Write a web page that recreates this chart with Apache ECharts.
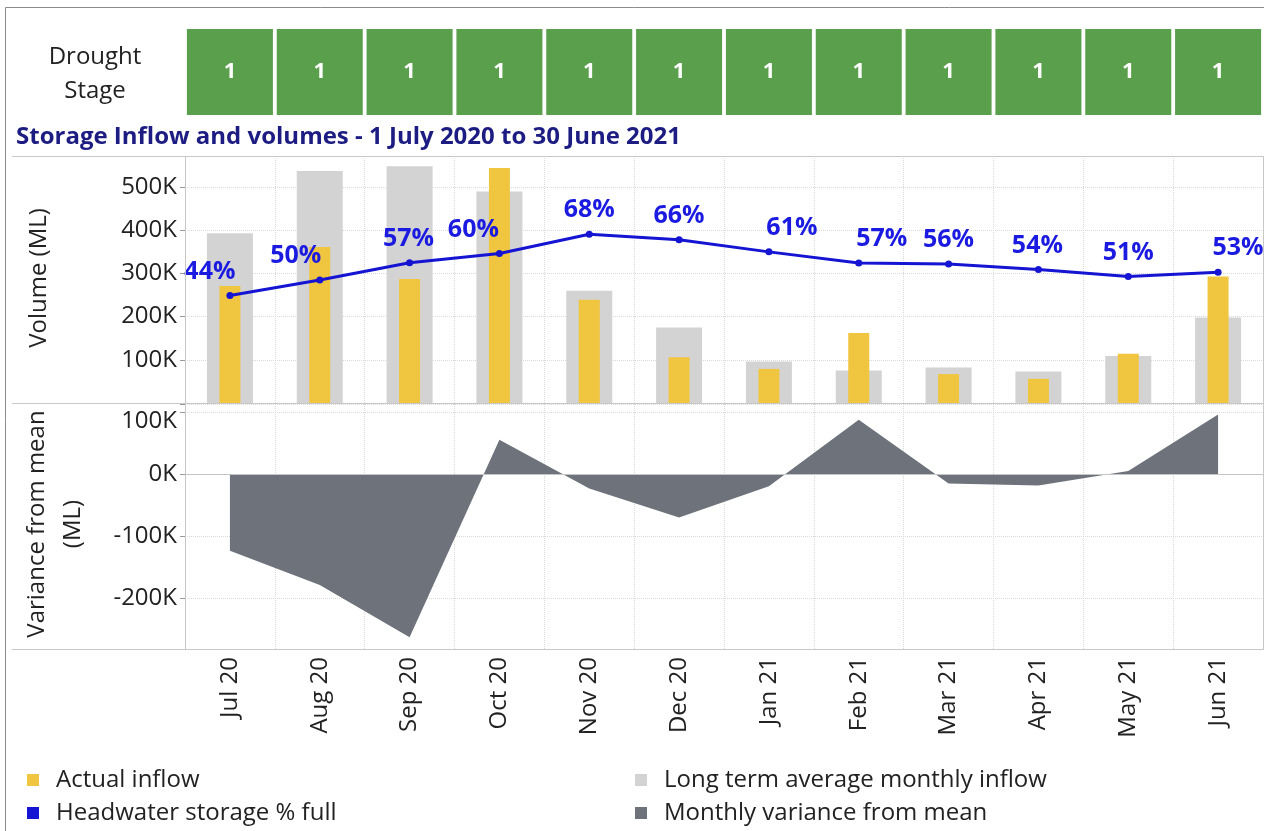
<!DOCTYPE html>
<html>
<head>
<meta charset="utf-8">
<script src="https://cdn.jsdelivr.net/npm/echarts@6/dist/echarts.min.js"></script>
<style>
html,body{margin:0;padding:0;background:#fff;}
#chart{width:1264px;height:831px;}
</style>
</head>
<body>
<div id="chart"></div>
<script>
// ---- data ----
var months = ['Jul 20','Aug 20','Sep 20','Oct 20','Nov 20','Dec 20','Jan 21','Feb 21','Mar 21','Apr 21','May 21','Jun 21'];
var droughtStage = [1,1,1,1,1,1,1,1,1,1,1,1];
var actualInflow = [271000, 361000, 287000, 544000, 239000, 106000, 79000, 162000, 67000, 56000, 114000, 293000];
var longTermAvgInflow = [393000, 537000, 548000, 490000, 260000, 175000, 96000, 75000, 82000, 73000, 109000, 198000];
var storageVolume = [249000, 285000, 325000, 346000, 391000, 378000, 350000, 324000, 322000, 309000, 293000, 303000];
var storagePctFull = [44, 50, 57, 60, 68, 66, 61, 57, 56, 54, 51, 53];
var varianceFromMean = [-123500, -178700, -263000, 55900, -23000, -69700, -19300, 88000, -15000, -18200, 5300, 96600];

// ---- styling ----
var FONT = 'Open Sans';
var TXT = '#222';
var FS = 24;
var GRID_LINE = '#d9d9d9';
var BORDER = '#c8c8c8';
var labelShiftX = [-20, -24, -1, -26, 0, 0, 23, 23, 0, -1, 0, 20];

var chart = echarts.init(document.getElementById('chart'), null, {renderer: 'canvas'});

function kFmtTop(v) { return (v !== 0 && v % 100000 === 0) ? (v / 1000) + 'K' : ''; }
function kFmtBottom(v) {
  if (v % 100000 !== 0) return '';
  var s = Math.round(v / 1000) + 'K';
  return v === 100000 ? '{low|' + s + '}' : s;
}

var grids = [
  {left: 185, top: 29, width: 1078, height: 86},
  {left: 185, top: 156, width: 1078, height: 247},
  {left: 185, top: 404, width: 1078, height: 245}
];

function catAxis(gridIndex, opts) {
  return Object.assign({
    type: 'category',
    gridIndex: gridIndex,
    data: months,
    boundaryGap: true,
    position: 'bottom',
    axisLine: {show: false},
    axisTick: {show: false},
    axisLabel: {show: false},
    splitLine: {show: false}
  }, opts || {});
}

var xAxes = [
  catAxis(0),
  catAxis(1, {splitLine: {show: true, lineStyle: {color: GRID_LINE, type: 'dotted', width: 1}}}),
  catAxis(2, {
    axisLabel: {show: true, rotate: 90, margin: 8, fontSize: FS, fontFamily: FONT, color: TXT},
    splitLine: {show: true, lineStyle: {color: GRID_LINE, type: 'dotted', width: 1}}
  }),
  catAxis(1)
];

var yAxes = [
  {type: 'value', gridIndex: 0, min: 0, max: 1, show: false},
  {
    type: 'value', gridIndex: 1, min: 0, max: 572000,
    axisLine: {show: false},
    axisTick: {show: true, length: 5, lineStyle: {color: '#999'}},
    axisLabel: {formatter: kFmtTop, fontSize: FS, fontFamily: FONT, color: TXT, margin: 8},
    splitLine: {show: true, lineStyle: {color: GRID_LINE, type: 'dotted'}}
  },
  {
    type: 'value', gridIndex: 2, min: -281800, max: 113400,
    axisLine: {show: false},
    axisTick: {show: true, length: 5, lineStyle: {color: '#999'}},
    axisLabel: {
      formatter: kFmtBottom, fontSize: FS, fontFamily: FONT, color: TXT, margin: 8,
      rich: {low: {fontSize: FS, fontFamily: FONT, color: TXT, padding: [18, 0, 0, 0]}}
    },
    splitLine: {show: true, lineStyle: {color: GRID_LINE, type: 'dotted'}}
  }
];

var legendText = {fontSize: FS, fontFamily: FONT, color: TXT, padding: [0, 0, 0, 12], lineHeight: 24};

var option = {
  animation: false,
  backgroundColor: '#ffffff',
  textStyle: {fontFamily: FONT},
  grid: grids,
  xAxis: xAxes,
  yAxis: yAxes,
  legend: [
    {
      left: 22, top: 763, orient: 'vertical', itemGap: 9,
      itemWidth: 12, itemHeight: 12, icon: 'rect',
      textStyle: legendText,
      data: ['Actual inflow', 'Headwater storage % full']
    },
    {
      left: 630, top: 763, orient: 'vertical', itemGap: 9,
      itemWidth: 12, itemHeight: 12, icon: 'rect',
      textStyle: legendText,
      data: ['Long term average monthly inflow', 'Monthly variance from mean']
    }
  ],
  series: [
    {
      name: 'Drought stage',
      type: 'bar', xAxisIndex: 0, yAxisIndex: 0,
      data: droughtStage.map(function () { return 1; }),
      barWidth: 86,
      itemStyle: {color: '#5a9f4c'},
      label: {
        show: true, position: 'inside',
        formatter: function (p) { return String(droughtStage[p.dataIndex]); },
        color: '#fff', fontSize: 22, fontWeight: 'bold', fontFamily: FONT
      },
      silent: true
    },
    {
      name: 'Long term average monthly inflow',
      type: 'bar', xAxisIndex: 1, yAxisIndex: 1,
      data: longTermAvgInflow,
      barWidth: 46,
      itemStyle: {color: '#d3d3d3'},
      z: 2
    },
    {
      name: 'Actual inflow',
      type: 'bar', xAxisIndex: 3, yAxisIndex: 1,
      data: actualInflow,
      barWidth: 21,
      itemStyle: {color: '#f0c53f'},
      z: 3
    },
    {
      name: 'Headwater storage % full',
      type: 'line', xAxisIndex: 1, yAxisIndex: 1,
      data: storageVolume.map(function (v, i) {
        return {value: v, label: {offset: [labelShiftX[i], 0]}};
      }),
      symbol: 'circle', symbolSize: 7,
      lineStyle: {color: '#1414d2', width: 3},
      itemStyle: {color: '#1414d2'},
      label: {
        show: true, position: 'top', distance: 8,
        formatter: function (p) { return storagePctFull[p.dataIndex] + '%'; },
        color: '#1a1ae0', fontSize: 25, fontWeight: 'bold', fontFamily: FONT
      },
      z: 5
    },
    {
      name: 'zero line',
      type: 'line', xAxisIndex: 2, yAxisIndex: 2,
      data: [],
      markLine: {
        silent: true, symbol: 'none', label: {show: false},
        lineStyle: {color: '#c4c4c4', type: 'solid', width: 1},
        data: [{yAxis: 0}]
      },
      z: 1
    },
    {
      name: 'Monthly variance from mean',
      type: 'line', xAxisIndex: 2, yAxisIndex: 2,
      data: varianceFromMean,
      symbol: 'none',
      lineStyle: {width: 0, color: '#6d727b'},
      itemStyle: {color: '#6d727b'},
      areaStyle: {color: '#6d727b', opacity: 1, origin: 0},
      z: 3
    }
  ],
  graphic: [
    // outer frame (top & left visible)
    {type: 'line', shape: {x1: 5.5, y1: 7.5, x2: 1264, y2: 7.5}, style: {stroke: '#8c8c8c', lineWidth: 1}, silent: true},
    {type: 'line', shape: {x1: 5.5, y1: 7.5, x2: 5.5, y2: 831}, style: {stroke: '#8c8c8c', lineWidth: 1}, silent: true},
    // pane borders
    {type: 'line', shape: {x1: 12, y1: 156.5, x2: 1264, y2: 156.5}, style: {stroke: BORDER, lineWidth: 1}, silent: true, z: 10},
    {type: 'line', shape: {x1: 12, y1: 403.5, x2: 1264, y2: 403.5}, style: {stroke: BORDER, lineWidth: 1}, silent: true, z: 10},
    {type: 'line', shape: {x1: 12, y1: 649.5, x2: 1264, y2: 649.5}, style: {stroke: BORDER, lineWidth: 1}, silent: true, z: 10},
    {type: 'line', shape: {x1: 185.5, y1: 156, x2: 185.5, y2: 650}, style: {stroke: BORDER, lineWidth: 1}, silent: true, z: 10},
    {type: 'line', shape: {x1: 1263.5, y1: 156, x2: 1263.5, y2: 650}, style: {stroke: BORDER, lineWidth: 1}, silent: true, z: 10},
    // texts
    {type: 'text', x: 95, y: 57, style: {text: 'Drought', font: '24px "Open Sans"', fill: TXT, textAlign: 'center', textVerticalAlign: 'middle'}, silent: true},
    {type: 'text', x: 95, y: 91, style: {text: 'Stage', font: '24px "Open Sans"', fill: TXT, textAlign: 'center', textVerticalAlign: 'middle'}, silent: true},
    {type: 'text', x: 16, y: 137, style: {text: 'Storage Inflow and volumes - 1 July 2020 to 30 June 2021', font: 'bold 24px "Open Sans"', fill: '#1c1c82', textAlign: 'left', textVerticalAlign: 'middle'}, silent: true},
    {type: 'text', x: 39, y: 278, rotation: Math.PI / 2, style: {text: 'Volume (ML)', font: '24px "Open Sans"', fill: TXT, textAlign: 'center', textVerticalAlign: 'middle'}, silent: true},
    {type: 'text', x: 37, y: 524, rotation: Math.PI / 2, style: {text: 'Variance from mean', font: '24px "Open Sans"', fill: TXT, textAlign: 'center', textVerticalAlign: 'middle'}, silent: true},
    {type: 'text', x: 73, y: 524, rotation: Math.PI / 2, style: {text: '(ML)', font: '24px "Open Sans"', fill: TXT, textAlign: 'center', textVerticalAlign: 'middle'}, silent: true}
  ]
};

chart.setOption(option);
</script>
</body>
</html>
